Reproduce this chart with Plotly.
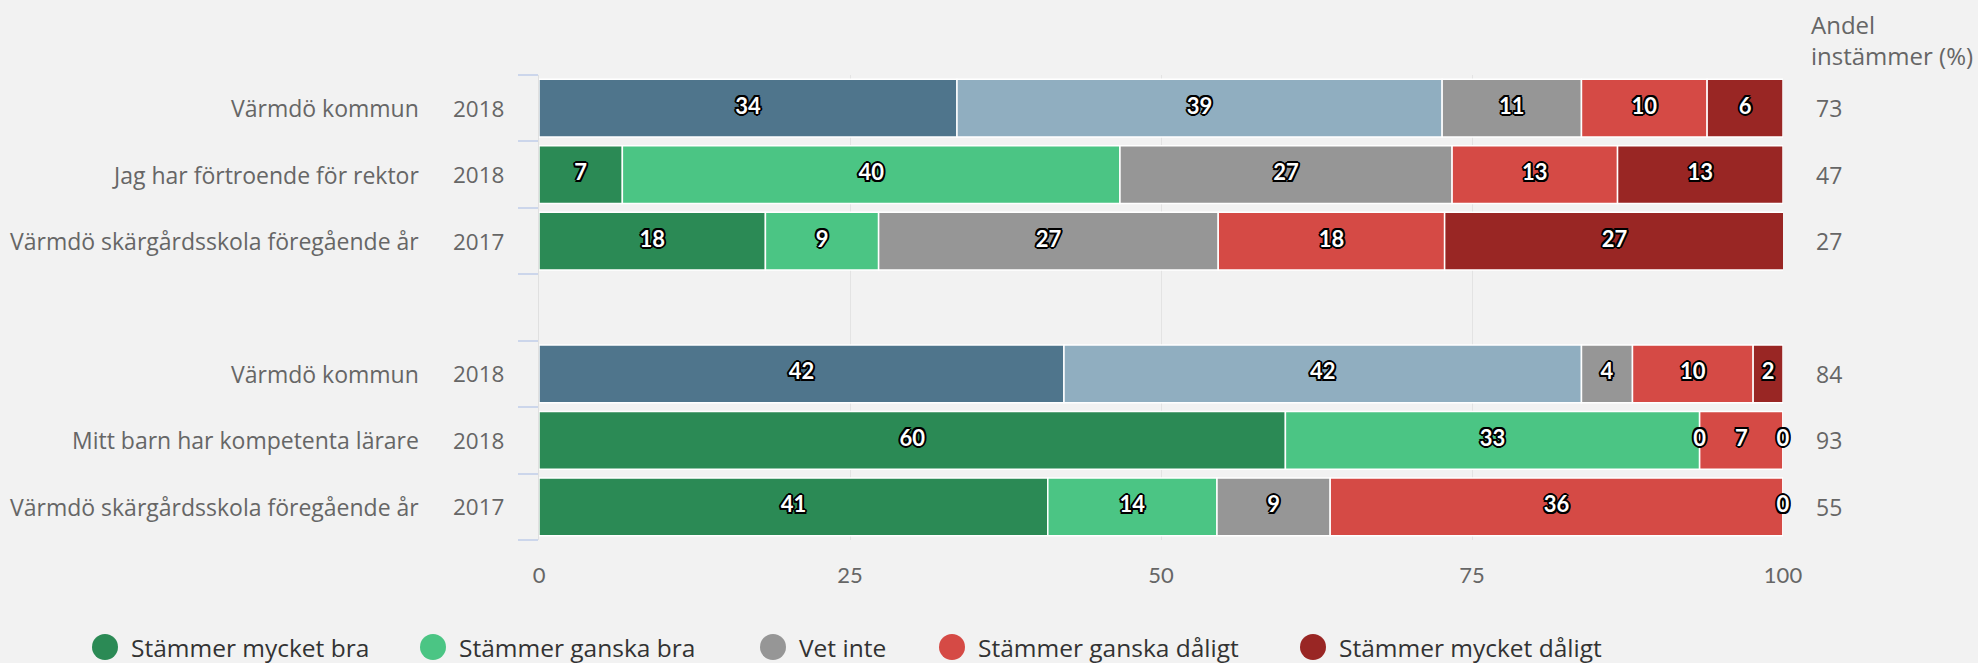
import plotly.graph_objects as go

# ---- data ----
names = ["Värmdö kommun", "Jag har förtroende för rektor", "Värmdö skärgårdsskola föregående år",
         "Värmdö kommun", "Mitt barn har kompetenta lärare", "Värmdö skärgårdsskola föregående år"]
years = ["2018", "2018", "2017", "2018", "2018", "2017"]
kind = ["kommun", "skola", "skola", "kommun", "skola", "skola"]
group = [0, 0, 0, 1, 1, 1]

mycket_bra = [33.6, 6.7, 18.2, 42.2, 60.0, 40.9]
ganska_bra = [39.0, 40.0, 9.1, 41.6, 33.3, 13.6]
vet_inte = [11.2, 26.7, 27.3, 4.1, 0.0, 9.1]
ganska_daligt = [10.1, 13.3, 18.2, 9.7, 6.7, 36.4]
mycket_daligt = [6.1, 13.3, 27.3, 2.4, 0.0, 0.0]
andel = [73, 47, 27, 84, 93, 55]

series_names = ["Stämmer mycket bra", "Stämmer ganska bra", "Vet inte",
                "Stämmer ganska dåligt", "Stämmer mycket dåligt"]
series_vals = [mycket_bra, ganska_bra, vet_inte, ganska_daligt, mycket_daligt]
x_ticks = [0, 25, 50, 75, 100]

# ---- styles ----
colors_skola = ["#2b8a55", "#4bc584", "#969696", "#d54a45", "#992624"]
colors_kommun = ["#4f758c", "#90aec0", "#969696", "#d54a45", "#992624"]
FONT = "Open Sans"
NUMFONT = "Lato"
GREY = "#666666"
BG = "#f2f2f2"

# plot area in pixels
W, H = 1978, 663
L, R, T, B = 539, 195, 75, 123
PW, PH = W - L - R, H - T - B

def px_x(p):
    return (p - L) / PW

def px_y(p):
    return (H - B - p) / PH

ypos = [i + g for i, g in enumerate(group)]

fig = go.Figure()
starts = [0.0] * len(names)
lx, ly, lt = [], [], []
for si, (sname, vals) in enumerate(zip(series_names, series_vals)):
    cols = [colors_kommun[si] if k == "kommun" else colors_skola[si] for k in kind]
    fig.add_trace(go.Bar(
        x=vals, y=ypos, base=starts, orientation="h", name=sname,
        marker=dict(color=cols, line=dict(color="white", width=1.5)),
        showlegend=False, hoverinfo="x+name",
    ))
    for i, v in enumerate(vals):
        lx.append(starts[i] + v / 2)
        ly.append(ypos[i])
        lt.append(f"{v:.0f}")
    starts = [s + v for s, v in zip(starts, vals)]

outline = ", ".join(f"{dx}px {dy}px 0 #000" for dx, dy in
                    [(-1.5, -1.5), (1.5, -1.5), (-1.5, 1.5), (1.5, 1.5),
                     (0, 2), (0, -2), (2, 0), (-2, 0)])
fig.add_trace(go.Scatter(
    x=lx, y=ly, text=lt, mode="text", showlegend=False, hoverinfo="skip",
    textfont=dict(family=NUMFONT, size=22, color="white", weight="bold", shadow=outline),
    cliponaxis=False,
))

ann = []
for i in range(len(names)):
    ann.append(dict(x=px_x(421), y=ypos[i], xref="paper", yref="y", text=names[i],
                    xanchor="right", yanchor="middle", showarrow=False,
                    font=dict(family=FONT, size=23, color=GREY)))
    ann.append(dict(x=px_x(506), y=ypos[i], xref="paper", yref="y", text=years[i],
                    xanchor="right", yanchor="middle", showarrow=False,
                    font=dict(family=FONT, size=22.5, color=GREY)))
    ann.append(dict(x=px_x(1814), y=ypos[i], xref="paper", yref="y", text=str(andel[i]),
                    xanchor="left", yanchor="middle", showarrow=False,
                    font=dict(family=FONT, size=23, color=GREY)))
ann.append(dict(x=px_x(1809), y=px_y(6), xref="paper", yref="paper",
                text="Andel<br>instämmer (%)", xanchor="left", yanchor="top", align="left",
                showarrow=False, font=dict(family=FONT, size=24, color=GREY)))

# manual legend
shapes = []
leg_x = [105, 433, 773, 952, 1313]
leg_y = 647
rad = 13
for si, sname in enumerate(series_names):
    cx = leg_x[si]
    shapes.append(dict(type="circle", xref="paper", yref="paper",
                       x0=px_x(cx - rad), x1=px_x(cx + rad),
                       y0=px_y(leg_y + rad), y1=px_y(leg_y - rad),
                       fillcolor=colors_skola[si], line=dict(width=0)))
    ann.append(dict(x=px_x(cx + 24), y=px_y(leg_y), xref="paper", yref="paper",
                    text=sname, xanchor="left", yanchor="middle", showarrow=False,
                    font=dict(family=FONT, size=24.5, color="#333333")))

fig.update_layout(
    width=W, height=H, barmode="overlay", bargap=0.13,
    paper_bgcolor=BG, plot_bgcolor=BG,
    margin=dict(l=L, r=R, t=T, b=B, autoexpand=False),
    annotations=ann, shapes=shapes,
    font=dict(family=FONT, color=GREY),
)
fig.update_xaxes(range=[0, 100], tickvals=x_ticks, showgrid=True, gridcolor="#e3e3e3",
                 gridwidth=1, zeroline=False, showline=False,
                 tickfont=dict(family=NUMFONT, size=22, color=GREY), ticklabelstandoff=20)
fig.update_yaxes(range=[6.5, -0.5], tickvals=[i - 0.5 for i in range(8)],
                 showticklabels=False, ticks="outside", ticklen=20, tickwidth=1.5,
                 tickcolor="#ccd6eb", showgrid=False, zeroline=False,
                 showline=True, linecolor="#e0e0e0", linewidth=1)

fig.write_html("out.html", config={"displayModeBar": False})

# remove default page margins so the figure fills the window exactly
with open("out.html", encoding="utf-8") as f:
    html = f.read()
html = html.replace("<head>", "<head><style>html,body{margin:0;padding:0;overflow:hidden;}</style>", 1)
with open("out.html", "w", encoding="utf-8") as f:
    f.write(html)
